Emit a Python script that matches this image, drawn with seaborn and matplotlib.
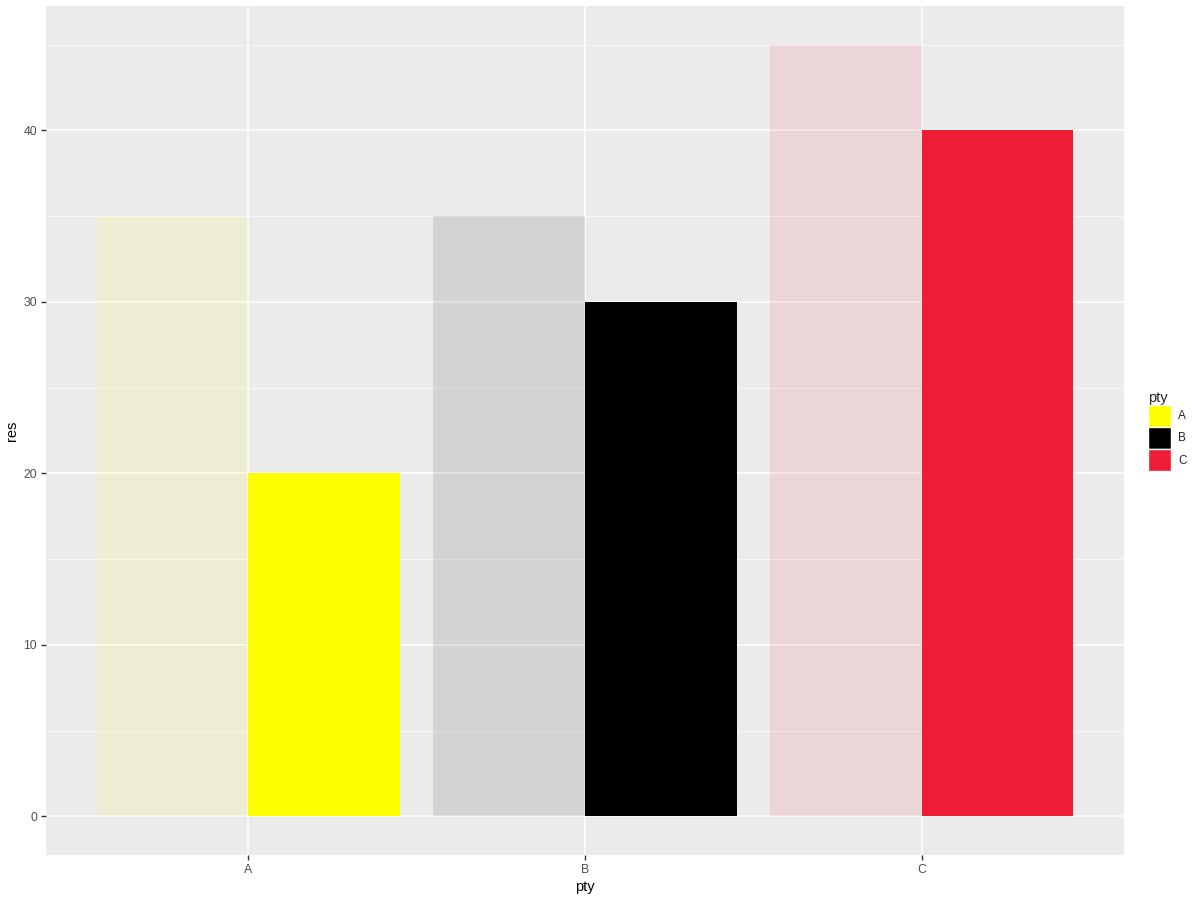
import pandas as pd
import numpy as np
import matplotlib
matplotlib.use("Agg")
import matplotlib.pyplot as plt
import seaborn as sns
from matplotlib.patches import Patch

# -----------------------------
# Dados
pty = ['A', 'B', 'C']
res_antes = [35, 35, 45]   # barras esmaecidas (alpha 0.1)
res_agora = [20, 30, 40]   # barras sólidas
cores = ['#FFFF00', '#000000', '#EE1C35']

df = pd.DataFrame({
    'pty': pty * 2,
    'res': res_antes + res_agora,
    'camada': ['antes'] * 3 + ['agora'] * 3,
})

# -----------------------------
sns.set_theme(style="darkgrid", rc={
    'axes.facecolor': '#EBEBEB',
    'grid.color': 'white',
    'axes.edgecolor': 'none',
})
plt.rcParams['font.family'] = ['Liberation Sans', 'DejaVu Sans']

fig = plt.figure(figsize=(12, 9), dpi=100)
ax = fig.add_axes([46/1200, 45/900, (1124-46)/1200, (855-6)/900])

sns.barplot(data=df, x='pty', y='res', hue='camada', order=pty,
            hue_order=['antes', 'agora'], dodge=True, width=0.9,
            errorbar=None, legend=False, ax=ax, zorder=3)

# recolorir cada barra pela categoria
for patch in ax.patches:
    cx = patch.get_x() + patch.get_width() / 2
    i = int(round(cx))
    lado_esq = cx < i
    patch.set_facecolor(cores[i])
    patch.set_edgecolor('none')
    patch.set_linewidth(0)
    patch.set_alpha(0.1 if lado_esq else 1.0)

ax.set_xlim(-0.6, 2.6)
ax.set_ylim(-2.25, 47.25)
ax.set_yticks([0, 10, 20, 30, 40])
ax.set_yticks([5, 15, 25, 35, 45], minor=True)
ax.grid(True, which='major', color='white', linewidth=1.1, zorder=0)
ax.grid(True, which='minor', axis='y', color='white', linewidth=0.5, zorder=0)
ax.set_axisbelow(True)

ax.tick_params(axis='both', which='major', length=3.5, width=1, color='#333333',
               labelcolor='#4D4D4D', labelsize=8.8, pad=3, bottom=True, left=True)
ax.tick_params(axis='both', which='minor', length=0)
ax.set_xlabel('pty', fontsize=10.5, color='black', labelpad=3)
ax.set_ylabel('res', fontsize=10.5, color='black', labelpad=3)
for s in ax.spines.values():
    s.set_visible(False)

# -----------------------------
# Legenda estilo ggplot
handles = [Patch(facecolor=c, edgecolor='white', linewidth=1) for c in cores]
leg = fig.legend(handles, pty, title='pty', loc='upper left',
                 bbox_to_anchor=(1143/1200, 1 - 386/900), frameon=False,
                 handlelength=2.0, handleheight=2.5, handletextpad=0.6,
                 labelspacing=0.0, fontsize=8.5, title_fontsize=10.5,
                 alignment='left', borderaxespad=0)

fig.savefig('out.png', dpi=100)
